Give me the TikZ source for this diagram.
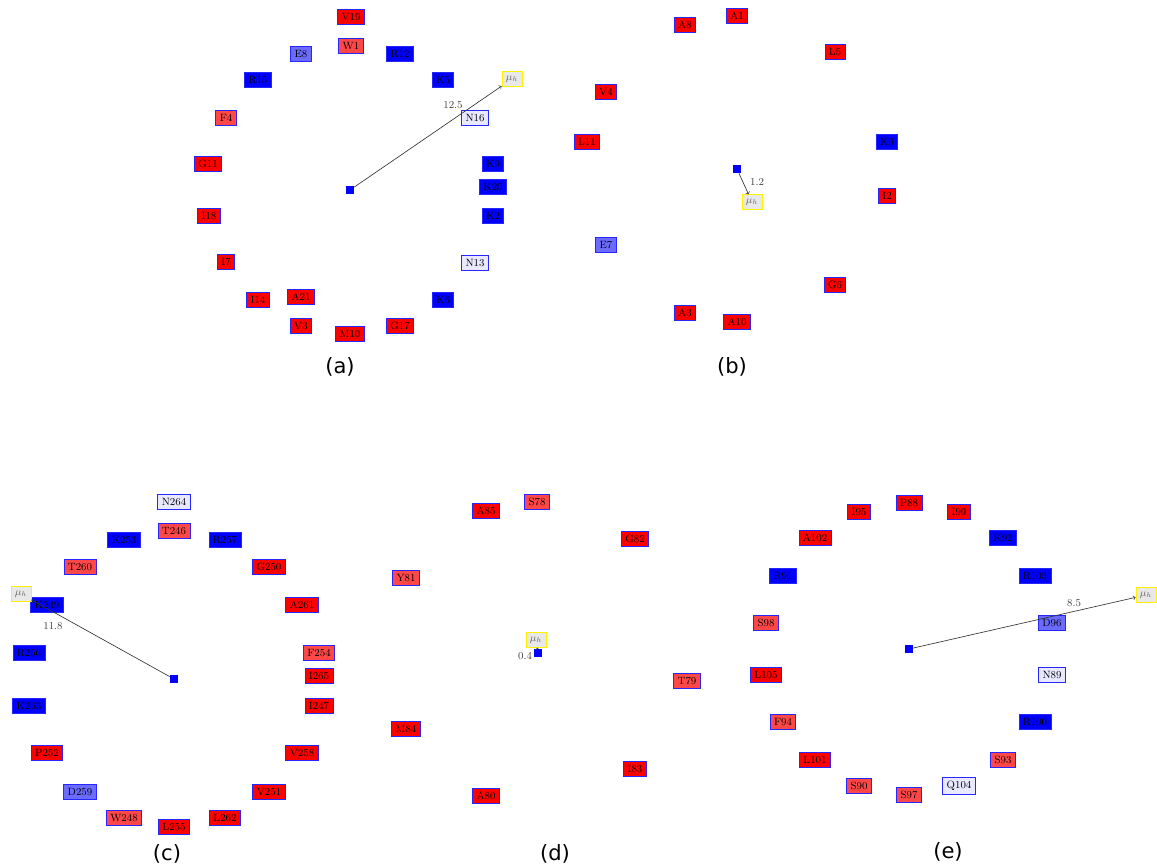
\documentclass[tikz,border=0pt]{standalone}
\usepackage{amsmath}
\usepackage{fontspec}
\usepackage{tikz}
\newfontfamily\capfont{DejaVu Sans}

\begin{document}
\begin{tikzpicture}[x=0.03cm,y=-0.03cm,
  res/.style={draw=blue!85!white, line width=0.7pt, font=\small, text=black},
  hphob/.style={res, fill=red},
  weak/.style={res, fill=red!72!white},
  basic/.style={res, fill=blue},
  acid/.style={res, fill=blue!58!white},
  amide/.style={res, fill=blue!9!white},
  ctr/.style={fill=blue, inner sep=0pt, minimum size=7pt},
  mom/.style={draw=yellow, fill=gray!18, line width=0.7pt, text=black!60, font=\small},
  vec/.style={->, draw=black!80, line width=0.55pt},
  magn/.style={font=\small, text=black!75},
  panel/.style={font=\capfont\fontsize{18}{20}\selectfont}]

 \useasboundingbox (0,0) rectangle (1157,867);

 % (a)
 \node[ctr] (ca) at (350,190) {};
 \node[mom] (ma) at (512,79) {$\mu_h$};
 \node[hphob] (a19) at (351,17) {V19};
 \node[weak] (a1) at (351,46) {W1};
 \node[acid] (a8) at (301,54) {E8};
 \node[basic] (a12) at (400,54) {R12};
 \node[basic] (a15) at (258,80) {R15};
 \node[basic] (a5) at (443,80) {K5};
 \node[weak] (a4) at (226,118) {F4};
 \node[amide] (a16) at (475,118) {N16};
 \node[hphob] (a11) at (208,164) {G11};
 \node[basic] (a9) at (493,164) {K9};
 \node[basic] (a20) at (493,187) {K20};
 \node[hphob] (a18) at (209,216) {I18};
 \node[basic] (a2) at (493,216) {K2};
 \node[hphob] (a7) at (226,262) {I7};
 \node[amide] (a13) at (475,263) {N13};
 \node[hphob] (a14) at (258,300) {I14};
 \node[hphob] (a21) at (301,297) {A21};
 \node[basic] (a6) at (443,300) {K6};
 \node[hphob] (a3) at (301,326) {V3};
 \node[hphob] (a10) at (350,334) {M10};
 \node[hphob] (a17) at (400,326) {G17};
 \draw[vec] (ca) -- (ma);
 \node[magn] (va) at (453,105) {12.5};
 \node[panel] (la) at (340,367) {(a)};

 % (b)
 \node[ctr] (cb) at (737,169) {};
 \node[mom] (mb) at (752,202) {$\mu_h$};
 \node[hphob] (b1) at (737,16) {A1};
 \node[hphob] (b8) at (685,25) {A8};
 \node[hphob] (b5) at (835,52) {L5};
 \node[hphob] (b4) at (606,92) {V4};
 \node[hphob] (b11) at (587,142) {L11};
 \node[basic] (b9) at (887,142) {K9};
 \node[hphob] (b2) at (887,196) {I2};
 \node[acid] (b7) at (606,245) {E7};
 \node[hphob] (b6) at (835,285) {G6};
 \node[hphob] (b3) at (685,313) {A3};
 \node[hphob] (b10) at (737,322) {A10};
 \draw[vec] (cb) -- (mb);
 \node[magn] (vb) at (757,182) {1.2};
 \node[panel] (lb) at (732,367) {(b)};

 % (c)
 \node[ctr] (cc) at (174,679) {};
 \node[amide] (c264) at (174,502) {N264};
 \node[weak] (c246) at (174,531) {T246};
 \node[basic] (c253) at (124,540) {K253};
 \node[basic] (c257) at (225,540) {R257};
 \node[weak] (c260) at (80,567) {T260};
 \node[hphob] (c250) at (269,567) {G250};
 \node[basic] (c249) at (47,605) {K249};
 \node[hphob] (c261) at (302,605) {A261};
 \node[basic] (c256) at (29,653) {R256};
 \node[weak] (c254) at (319,653) {F254};
 \node[hphob] (c265) at (319,676) {I265};
 \node[basic] (c263) at (29,706) {K263};
 \node[hphob] (c247) at (319,706) {I247};
 \node[hphob] (c252) at (47,753) {P252};
 \node[hphob] (c258) at (302,753) {V258};
 \node[acid] (c259) at (80,792) {D259};
 \node[hphob] (c251) at (269,792) {V251};
 \node[weak] (c248) at (124,818) {W248};
 \node[hphob] (c262) at (225,818) {L262};
 \node[hphob] (c255) at (174,827) {L255};
 \node[mom] (mc) at (21,594) {$\mu_h$};
 \draw[vec] (cc) -- (mc);
 \node[magn] (vc) at (53,626) {11.8};
 \node[panel] (lc) at (167,854) {(c)};

 % (d)
 \node[ctr] (cd) at (538,653) {};
 \node[mom] (md) at (536,640) {$\mu_h$};
 \node[weak] (d78) at (537,502) {S78};
 \node[hphob] (d85) at (486,511) {A85};
 \node[hphob] (d82) at (635,539) {G82};
 \node[weak] (d81) at (406,578) {Y81};
 \node[weak] (d79) at (687,681) {T79};
 \node[hphob] (d84) at (406,729) {M84};
 \node[hphob] (d83) at (635,769) {I83};
 \node[hphob] (d80) at (486,796) {A80};
 \draw[vec] (cd) -- (md);
 \node[magn] (vd) at (525,656) {0.4};
 \node[panel] (ld) at (555,854) {(d)};

 % (e)
 \node[ctr] (ce) at (909,649) {};
 \node[hphob] (e88) at (909,503) {P88};
 \node[hphob] (e95) at (859,512) {I95};
 \node[hphob] (e99) at (959,512) {I99};
 \node[hphob] (e102) at (815,538) {A102};
 \node[basic] (e92) at (1003,538) {K92};
 \node[basic] (e91) at (783,576) {R91};
 \node[basic] (e103) at (1035,576) {R103};
 \node[weak] (e98) at (766,623) {S98};
 \node[acid] (e96) at (1052,623) {D96};
 \node[hphob] (e105) at (766,675) {L105};
 \node[amide] (e89) at (1052,675) {N89};
 \node[weak] (e94) at (783,722) {F94};
 \node[basic] (e100) at (1035,722) {R100};
 \node[hphob] (e101) at (815,760) {L101};
 \node[weak] (e93) at (1003,760) {S93};
 \node[weak] (e90) at (859,786) {S90};
 \node[amide] (e104) at (959,786) {Q104};
 \node[weak] (e97) at (909,795) {S97};
 \node[mom] (me) at (1146,595) {$\mu_h$};
 \draw[vec] (ce) -- (me);
 \node[magn] (ve) at (1074,603) {8.5};
 \node[panel] (le) at (948,852) {(e)};

\end{tikzpicture}
\end{document}
